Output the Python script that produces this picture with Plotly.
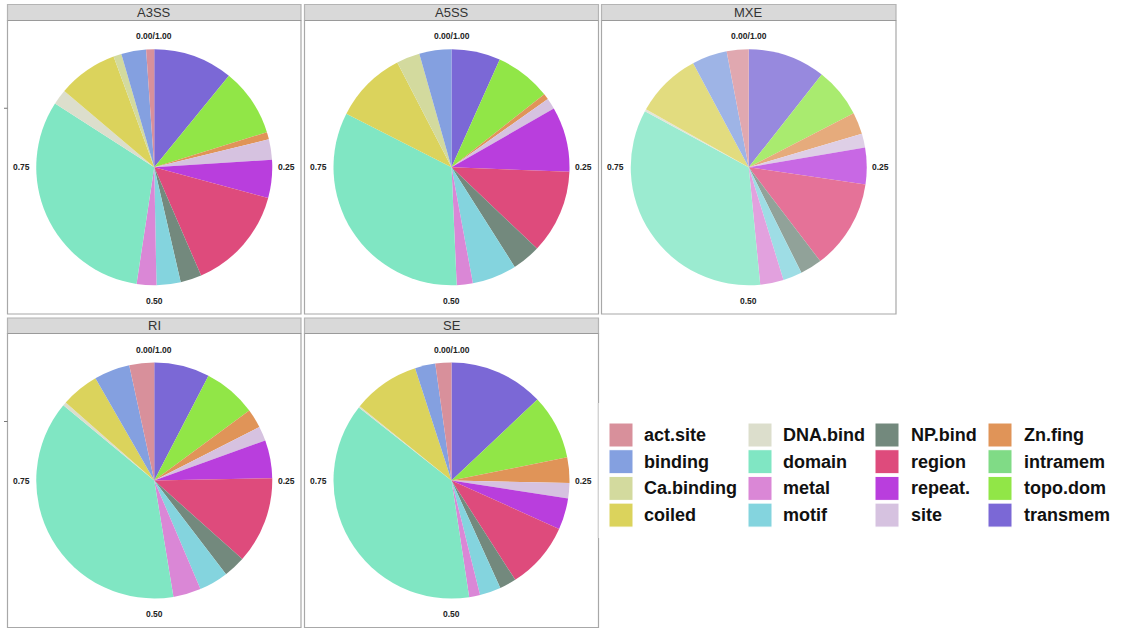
import plotly.graph_objects as go

W, H = 1125, 629

# Feature categories (legend order) and their fill colours
categories = ["act.site", "binding", "Ca.binding", "coiled", "DNA.bind", "domain",
              "metal", "motif", "NP.bind", "region", "repeat.", "site", "Zn.fing",
              "intramem", "topo.dom", "transmem"]
colors = ["#D8909B", "#84A0E0", "#D3DA9E", "#DBD35C", "#DCDECC", "#80E6C3",
          "#DA87D6", "#84D4DE", "#73897D", "#DE4B7C", "#B93EDD", "#D6C2E0",
          "#E09458", "#80DB86", "#91E647", "#7B68D6"]

events = ["A3SS", "A5SS", "MXE", "RI", "SE"]

# Share of each feature category (%) per splicing event type
a3ss = [1.1, 3.4, 1.1, 8.2, 2.1, 31.7, 2.7, 3.3, 2.9, 14.3, 5.2, 2.8, 1.0, 0.0, 9.3, 10.9]
a5ss = [0.0, 4.4, 3.2, 9.9, 0.0, 33.2, 2.2, 6.1, 3.9, 11.5, 8.9, 1.5, 0.8, 0.0, 7.7, 6.7]
mxe = [3.0, 4.8, 0.0, 9.0, 0.3, 34.4, 3.2, 2.6, 3.0, 12.3, 5.0, 1.9, 3.0, 0.0, 6.8, 10.6]
ri = [3.4, 4.9, 0.0, 5.2, 0.5, 38.6, 3.8, 4.0, 3.0, 11.9, 5.2, 2.0, 2.6, 0.0, 7.3, 7.6]
se = [2.2, 2.8, 0.0, 9.2, 0.2, 38.1, 1.5, 2.9, 2.3, 9.2, 4.3, 2.1, 3.5, 0.0, 8.9, 13.0]
shares = [a3ss, a5ss, mxe, ri, se]
opacities = [1.0, 1.0, 0.78, 1.0, 1.0]

theta_ticks = ["0.00/1.00", "0.25", "0.50", "0.75"]

# facet grid geometry (pixels)
col_x = [(7.5, 301.0), (304.5, 598.5), (601.5, 896.0)]
row_y = [(4.5, 20.5, 314.0), (318.0, 333.5, 627.5)]  # strip top, strip bottom, panel bottom
R = 118

def px(x):
    return x / W

def py(y):
    return 1 - y / H

fig = go.Figure()
shapes = []
annotations = []

for i, ev in enumerate(events):
    r, c = divmod(i, 3)
    x0, x1 = col_x[c]
    st, sb, pb = row_y[r]
    cx = (x0 + x1) / 2
    cy = (sb + pb) / 2

    # panel border and strip
    shapes.append(dict(type="rect", xref="paper", yref="paper",
                       x0=px(x0), x1=px(x1), y0=py(pb), y1=py(sb),
                       line=dict(color="#A8A8A8", width=1.2), fillcolor="rgba(0,0,0,0)"))
    shapes.append(dict(type="rect", xref="paper", yref="paper",
                       x0=px(x0), x1=px(x1), y0=py(sb), y1=py(st),
                       line=dict(color="#B4B4B4", width=1.2), fillcolor="#D9D9D9"))
    shapes.append(dict(type="line", xref="paper", yref="paper",
                       x0=px(x0), x1=px(x1), y0=py(sb), y1=py(sb),
                       line=dict(color="#9A9A9A", width=1.2)))
    annotations.append(dict(text=ev, x=px(cx), y=py((st + sb) / 2), xref="paper", yref="paper",
                            showarrow=False, xanchor="center", yanchor="middle",
                            font=dict(family="Liberation Sans", size=13, color="#333333")))

    # radial axis tick on the left column
    if c == 0:
        shapes.append(dict(type="line", xref="paper", yref="paper",
                           x0=px(x0 - 3.5), x1=px(x0), y0=py(cy - 59), y1=py(cy - 59),
                           line=dict(color="#777777", width=1)))

    fig.add_trace(go.Pie(
        labels=categories[::-1],
        values=shares[i][::-1],
        marker=dict(colors=colors[::-1], line=dict(width=0)),
        sort=False,
        direction="clockwise",
        rotation=0,
        textinfo="none",
        hovertemplate=ev + "<br>%{label}: %{value}%<extra></extra>",
        opacity=opacities[i],
        showlegend=False,
        domain=dict(x=[px(cx - R), px(cx + R)], y=[py(cy + R), py(cy - R)]),
    ))

    # angular tick labels
    tick_pos = [(cx, cy - 131), (cx + 132, cy), (cx, cy + 133.5), (cx - 133, cy)]
    for lab, (tx, ty) in zip(theta_ticks, tick_pos):
        annotations.append(dict(text="<b>%s</b>" % lab, x=px(tx), y=py(ty), xref="paper", yref="paper",
                                showarrow=False, xanchor="center", yanchor="middle",
                                font=dict(family="Liberation Sans", size=8.5, color="#222222")))

# legend box
shapes.append(dict(type="rect", xref="paper", yref="paper",
                   x0=px(598), x1=1, y0=py(538), y1=py(403),
                   line=dict(width=0), fillcolor="white"))
shapes.append(dict(type="line", xref="paper", yref="paper",
                   x0=px(598.3), x1=px(598.3), y0=py(538), y1=py(403),
                   line=dict(color="#C8C8C8", width=1)))

key_x = [609, 748, 875, 988]
text_x = [643, 782, 910, 1023]
key_top = 423
pitch = 26.7
key = 24
for k, (cat, col) in enumerate(zip(categories, colors)):
    cc, rr = divmod(k, 4)
    ky = key_top + rr * pitch
    shapes.append(dict(type="rect", xref="paper", yref="paper",
                       x0=px(key_x[cc]), x1=px(key_x[cc] + key), y0=py(ky + key), y1=py(ky),
                       line=dict(color="white", width=1), fillcolor=col))
    annotations.append(dict(text="<b>%s</b>" % cat, x=px(text_x[cc] - 1), y=py(ky + key / 2),
                            xref="paper", yref="paper", showarrow=False,
                            xanchor="left", yanchor="middle",
                            font=dict(family="Liberation Sans", size=18, color="#111111")))

fig.update_layout(
    width=W, height=H,
    margin=dict(l=0, r=0, t=0, b=0),
    paper_bgcolor="white",
    plot_bgcolor="white",
    shapes=shapes,
    annotations=annotations,
    showlegend=False,
)

fig.write_html("out.html")
